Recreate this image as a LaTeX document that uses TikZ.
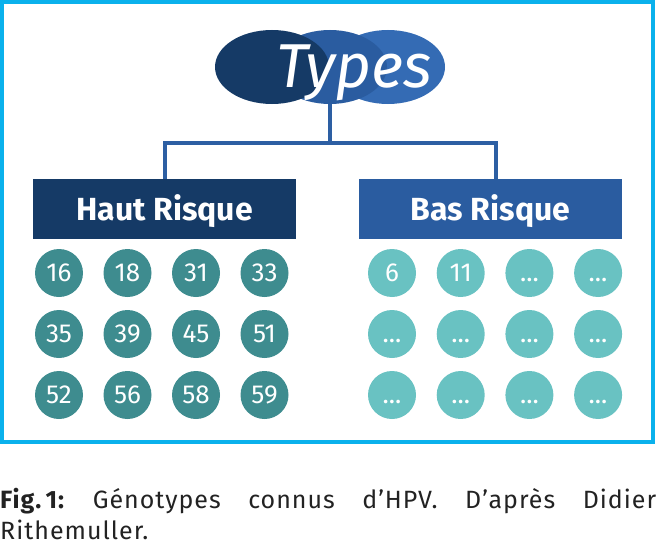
\documentclass[tikz,border=0pt]{standalone}
\usepackage{fontspec}
\setmainfont{Fira Sans}
\newfontfamily\capfont{Fira Sans}[LetterSpace=4]
\usetikzlibrary{shapes.geometric}
\definecolor{frame}{HTML}{0AB1EC}
\definecolor{navy}{HTML}{153A66}
\definecolor{midblue}{HTML}{2A5CA0}
\definecolor{lightblue}{HTML}{346BB4}
\definecolor{conncol}{HTML}{2D5FA3}
\definecolor{darkteal}{HTML}{3E8C8F}
\definecolor{lightteal}{HTML}{69C2C2}
\definecolor{captext}{HTML}{222222}
\tikzset{
  blob/.style={ellipse, minimum width=114pt, minimum height=74pt, inner sep=0pt, draw=none},
  riskbox/.style={rectangle, minimum width=263pt, minimum height=60pt, inner sep=0pt,
    text=white, font=\fontsize{32}{32}\selectfont\bfseries, text height=22pt, text depth=0pt},
  dot/.style={circle, minimum size=48pt, inner sep=0pt, text=white,
    font=\fontsize{26}{26}\selectfont},
  hidot/.style={dot, fill=darkteal},
  lodot/.style={dot, fill=lightteal},
  conn/.style={draw=conncol, line width=4pt, line join=miter},
}
\begin{document}
\begin{tikzpicture}[x=1pt, y=-1pt]
\useasboundingbox (0,0) rectangle (656,543);
\draw[frame, line width=4pt] (2,2) rectangle (653,442);
% ellipses
\node[blob, fill=lightblue] (rgt) at (388,67) {};
\node[blob, fill=midblue] (mid) at (330,67) {};
\node[blob, fill=navy] (lft) at (272,67) {};
\node[anchor=base, text=white, font=\fontsize{62}{62}\selectfont\itshape, inner sep=0pt] (types) at (354,88) {Types};
% boxes
\node[riskbox, fill=navy] (hr) at (164.5,209) {Haut Risque};
\node[riskbox, fill=midblue] (br) at (490.5,209) {Bas Risque};
% connectors
\coordinate (j) at (330,143);
\coordinate (brtop) at (496,179);
\draw[conn] (mid.south) -- (j);
\draw[conn] (hr.north) |- (j) -| (brtop);
% high risk circles
\foreach \t [count=\i from 0] in {16,18,31,33,35,39,45,51,52,56,58,59} {
  \pgfmathtruncatemacro{\c}{mod(\i,4)}
  \pgfmathtruncatemacro{\r}{int(\i/4)}
  \node[hidot] (h\i) at (59+68.5*\c, 273+61*\r) {\t};
}
% low risk circles
\foreach \t [count=\i from 0] in {6,11,x,x,x,x,x,x,x,x,x,x} {
  \pgfmathtruncatemacro{\c}{mod(\i,4)}
  \pgfmathtruncatemacro{\r}{int(\i/4)}
  \ifnum\i<2
    \node[lodot] (l\i) at (392+68.7*\c, 273+61*\r) {\t};
  \else
    \node[lodot] (l\i) at (392+68.7*\c, 273+61*\r) {\vphantom{1}...};
  \fi
}
% caption
\node[anchor=north west, inner sep=0pt, text width=656pt, align=justify, text=captext,
  font=\capfont\fontsize{25}{31.5}\selectfont] (cap) at (0,488)
  {\mbox{\textbf{Fig.\,1:}} Génotypes connus d’HPV. D’après Didier\linebreak Rithemuller.};
\end{tikzpicture}
\end{document}
